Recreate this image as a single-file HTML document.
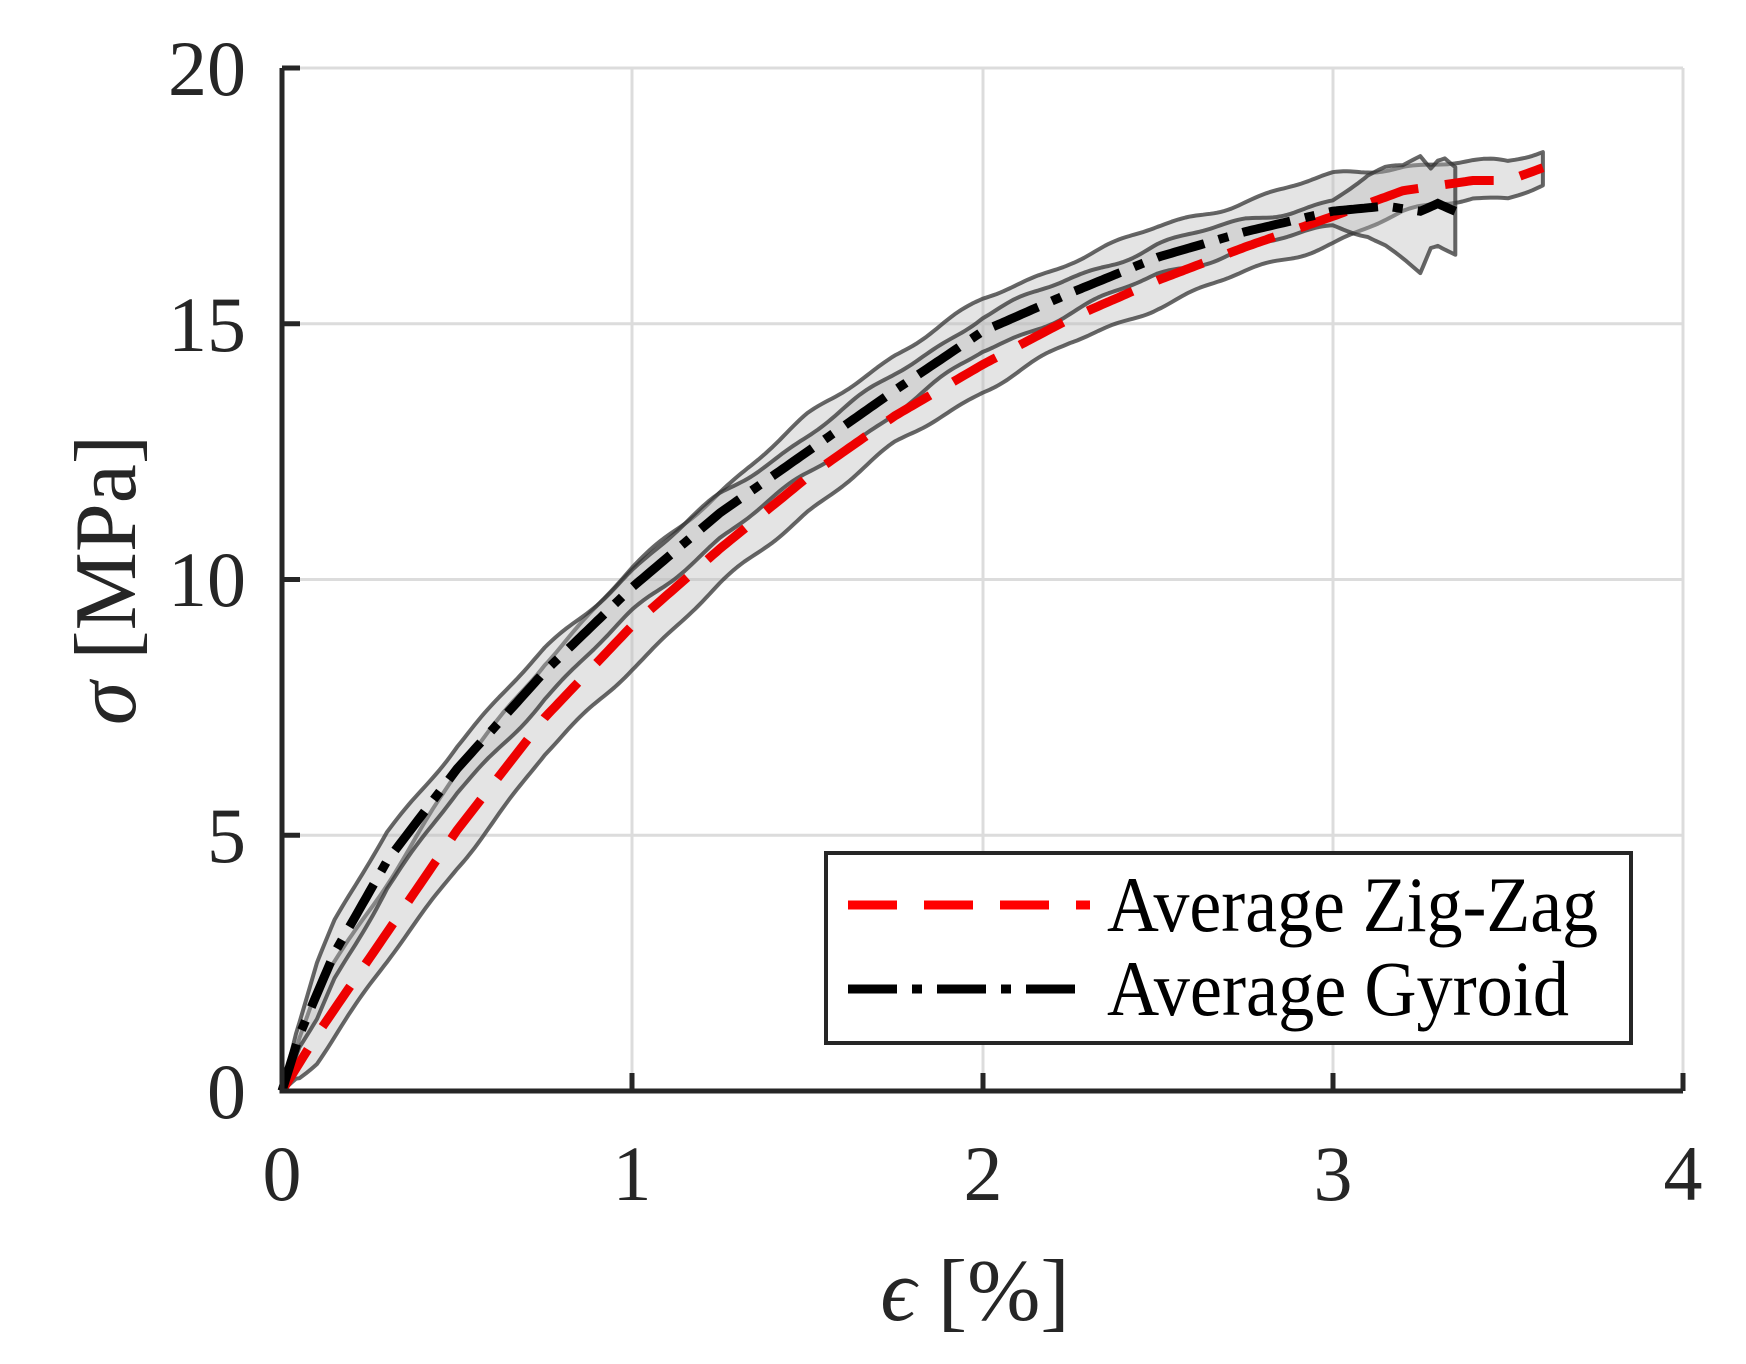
<!DOCTYPE html>
<html><head><meta charset="utf-8"><style>
html,body{margin:0;padding:0;background:#fff;}
svg{display:block;}
text{font-family:"Liberation Serif","DejaVu Serif",serif;fill:#262626;}
</style></head><body>
<svg id="s" width="1746" height="1364" viewBox="0 0 1746 1364" xmlns="http://www.w3.org/2000/svg">
<g id="grid" stroke="#dcdcdc" stroke-width="3">
<line x1="632" y1="68" x2="632" y2="1091"/>
<line x1="983" y1="68" x2="983" y2="1091"/>
<line x1="1333" y1="68" x2="1333" y2="1091"/>
<line x1="1683" y1="68" x2="1683" y2="1091"/>
<line x1="282" y1="68" x2="1683" y2="68"/>
<line x1="282" y1="323.75" x2="1683" y2="323.75"/>
<line x1="282" y1="579.5" x2="1683" y2="579.5"/>
<line x1="282" y1="835.25" x2="1683" y2="835.25"/>
</g>
<g id="bands"></g>
<g id="lines"></g>
<g stroke="#262626" stroke-width="5" fill="none">
<polyline points="282,68 282,1091 1683,1091"/>
<line x1="282" y1="68" x2="300" y2="68"/>
<line x1="282" y1="323.75" x2="300" y2="323.75"/>
<line x1="282" y1="579.5" x2="300" y2="579.5"/>
<line x1="282" y1="835.25" x2="300" y2="835.25"/>
<line x1="632" y1="1091" x2="632" y2="1073"/>
<line x1="983" y1="1091" x2="983" y2="1073"/>
<line x1="1333" y1="1091" x2="1333" y2="1073"/>
<line x1="1683" y1="1091" x2="1683" y2="1073"/>
</g>
<g font-size="78" text-anchor="end">
<text x="246" y="95">20</text>
<text x="246" y="351">15</text>
<text x="246" y="606">10</text>
<text x="246" y="862">5</text>
<text x="246" y="1118">0</text>
</g>
<g font-size="78" text-anchor="middle">
<text x="282" y="1200">0</text>
<text x="632" y="1200">1</text>
<text x="983" y="1200">2</text>
<text x="1333" y="1200">3</text>
<text x="1683" y="1200">4</text>
</g>
<text x="975" y="1320" font-size="88" text-anchor="middle"><tspan font-style="italic">ϵ</tspan> [%]</text>
<text transform="translate(135,580) rotate(-90)" font-size="88" text-anchor="middle"><tspan font-style="italic">σ</tspan> [MPa]</text>
<rect x="826" y="853" width="805" height="190" fill="#fff" stroke="#262626" stroke-width="4"/>
<line x1="848" y1="905" x2="1090" y2="905" stroke="#f00" stroke-width="9" stroke-dasharray="49,27"/>
<line x1="848" y1="989" x2="1090" y2="989" stroke="#000" stroke-width="9" stroke-dasharray="49,15,10,15"/>
<text x="1107" y="931" font-size="78" textLength="491" lengthAdjust="spacingAndGlyphs" style="fill:#000">Average Zig-Zag</text>
<text x="1107" y="1015" font-size="78" textLength="462" lengthAdjust="spacingAndGlyphs" style="fill:#000">Average Gyroid</text>
</svg>
<script>
var X=function(e){return 282+e*350.25},Y=function(s){return 1091-s*51.15};
function interp(p,e){if(e<=p[0][0])return p[0][1];for(var i=1;i<p.length;i++){if(e<=p[i][0]){var t=(e-p[i-1][0])/(p[i][0]-p[i-1][0]);return p[i-1][1]+t*(p[i][1]-p[i-1][1]);}}return p[p.length-1][1];}
var G=[[0,0],[0.05,1.1],[0.15,2.7],[0.3,4.5],[0.5,6.3],[0.75,8.2],[1,9.85],[1.25,11.3],[1.5,12.5],[1.75,13.7],[2,14.85],[2.25,15.6],[2.5,16.3],[2.75,16.8],[3,17.2],[3.15,17.3],[3.25,17.2],[3.3,17.35],[3.35,17.2]];
var R=[[0,0],[0.1,1.1],[0.2,2.1],[0.35,3.6],[0.5,5.1],[0.75,7.3],[1,9.1],[1.25,10.6],[1.5,12.0],[1.75,13.2],[2,14.2],[2.25,15.1],[2.5,15.85],[2.75,16.5],[3,17.1],[3.2,17.6],[3.4,17.8],[3.5,17.8],[3.6,18.05]];
var RU=[[0,0],[0.1,0.9],[0.5,1.1],[1,1.1],[2,1.25],[3,0.8],[3.2,0.5],[3.4,0.35],[3.6,0.35]];
var RL=[[0,0],[0.1,0.5],[0.5,0.7],[1,0.8],[2,0.5],[3,0.5],[3.2,0.45],[3.4,0.3],[3.6,0.35]];
var GU=[[0,0],[0.1,0.6],[1,0.35],[2,0.3],[3,0.2],[3.1,0.6],[3.2,0.8],[3.25,1.1],[3.28,0.8],[3.32,1.0],[3.35,0.9]];
var GL=[[0,0],[0.1,0.5],[1,0.5],[2,0.4],[3,0.3],[3.1,0.5],[3.25,1.2],[3.28,0.8],[3.35,0.9]];
function wig(e,k){return e<0.05?0:0.05*Math.sin(e*13+k)+0.03*Math.sin(e*29+2*k);}
function band(M,U,L,end,k){var up=[],lo=[];for(var e=0;e<=end+1e-9;e+=0.01){var m=interp(M,e);up.push(X(e).toFixed(1)+","+Y(m+interp(U,e)+wig(e,k)).toFixed(1));lo.push(X(e).toFixed(1)+","+Y(Math.max(0,m-interp(L,e)+wig(e,k+3))).toFixed(1));}
return '<polygon points="'+up.join(" ")+" "+lo.reverse().join(" ")+'" fill="#bbb" fill-opacity="0.4" stroke="#333" stroke-opacity="0.75" stroke-width="4" stroke-linejoin="round"/>';}
function line(M,end,col,dash){var p=[];for(var e=0;e<=end+1e-9;e+=0.01){p.push(X(e).toFixed(1)+","+Y(interp(M,e)).toFixed(1));}
return '<polyline points="'+p.join(" ")+'" fill="none" stroke="'+col+'" stroke-width="9" stroke-dasharray="'+dash+'"/>';}
document.getElementById("bands").innerHTML=band(R,RU,RL,3.6,1)+band(G,GU,GL,3.35,5);
document.getElementById("lines").innerHTML=line(R,3.6,"#e00","49,27")+line(G,3.35,"#000","49,15,10,15");
</script>
</body></html>
